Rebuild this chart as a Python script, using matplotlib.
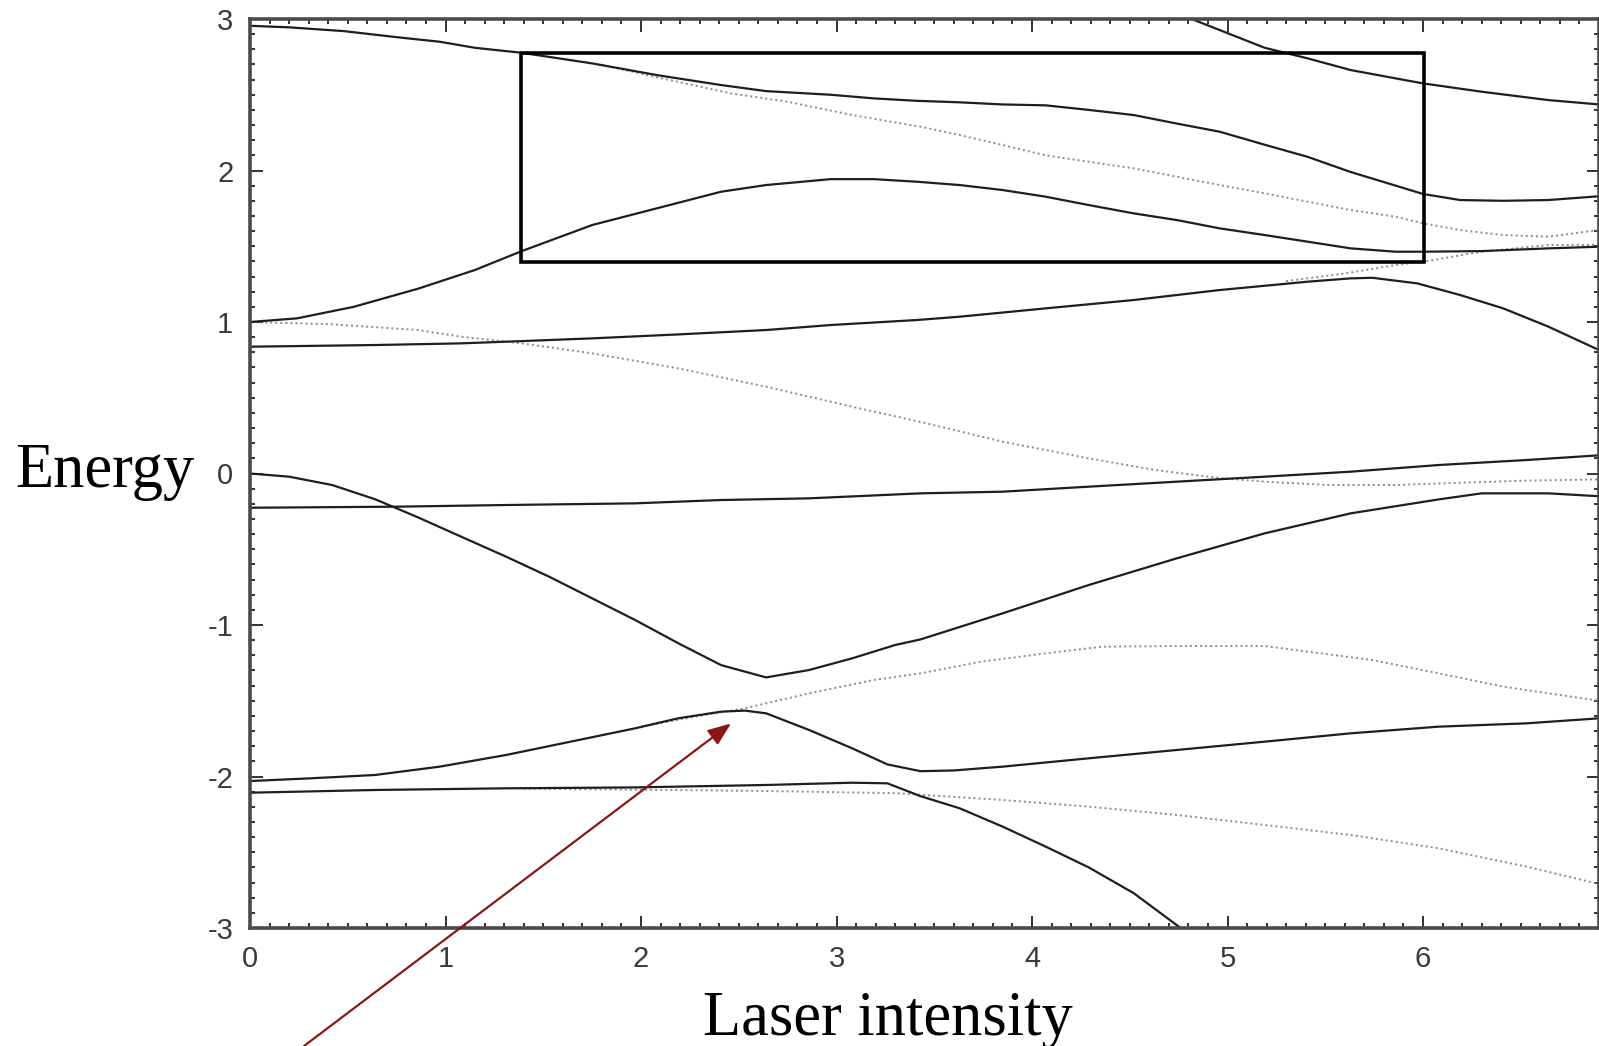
import matplotlib
matplotlib.use("Agg")
import matplotlib.pyplot as plt
from matplotlib.patches import Rectangle
from matplotlib.ticker import MultipleLocator

plt.rcParams['axes.unicode_minus'] = False

# solid (adiabatic) levels
s1_x = [0, 0.2, 0.48, 0.75, 0.97, 1.15, 1.39, 1.75, 2.08, 2.41, 2.64, 2.97, 3.19, 3.41, 3.63, 3.85,
        4.07, 4.29, 4.52, 4.74, 4.96, 5.19, 5.41, 5.63, 5.86, 6.0, 6.19, 6.41, 6.64, 6.9]
s1_y = [2.955, 2.945, 2.92, 2.88, 2.85, 2.81, 2.777, 2.707, 2.63, 2.564, 2.524, 2.50, 2.476, 2.46, 2.45, 2.436,
        2.43, 2.40, 2.366, 2.31, 2.256, 2.17, 2.09, 1.99, 1.90, 1.845, 1.805, 1.80, 1.805, 1.83]

s2_x = [0, 0.24, 0.53, 0.86, 1.15, 1.39, 1.75, 2.08, 2.41, 2.64, 2.97, 3.19, 3.41, 3.63, 3.85, 4.07,
        4.29, 4.52, 4.74, 4.96, 5.19, 5.41, 5.63, 5.86, 6.0, 6.3, 6.64, 6.9]
s2_y = [1.0, 1.024, 1.10, 1.22, 1.343, 1.468, 1.64, 1.75, 1.86, 1.904, 1.943, 1.943, 1.926, 1.904, 1.871, 1.827,
        1.772, 1.717, 1.673, 1.618, 1.574, 1.53, 1.486, 1.464, 1.464, 1.468, 1.486, 1.497]

s3_x = [0, 0.64, 1.08, 1.39, 1.75, 2.19, 2.64, 2.97, 3.41, 3.63, 4.07, 4.52, 4.96, 5.41, 5.63, 5.74,
        5.97, 6.19, 6.41, 6.64, 6.9]
s3_y = [0.837, 0.848, 0.859, 0.874, 0.892, 0.918, 0.947, 0.98, 1.013, 1.035, 1.09, 1.145, 1.211, 1.266, 1.288, 1.292,
        1.255, 1.178, 1.09, 0.97, 0.815]

s4_x = [0, 0.75, 1.31, 1.97, 2.41, 2.86, 3.43, 3.85, 4.29, 4.74, 5.19, 5.63, 6.08, 6.53, 6.9]
s4_y = [-0.226, -0.219, -0.208, -0.197, -0.175, -0.164, -0.131, -0.12, -0.087, -0.054, -0.021, 0.012, 0.056, 0.089, 0.12]

s5_x = [0, 0.2, 0.42, 0.64, 0.86, 1.08, 1.31, 1.53, 1.75, 1.97, 2.19, 2.41, 2.64, 2.86, 3.08, 3.30,
        3.43, 3.85, 4.29, 4.74, 5.19, 5.63, 6.08, 6.30, 6.64, 6.9]
s5_y = [0.0, -0.021, -0.076, -0.17, -0.29, -0.417, -0.549, -0.681, -0.824, -0.967, -1.12, -1.265, -1.346, -1.297,
        -1.22, -1.132, -1.095, -0.923, -0.736, -0.56, -0.395, -0.263, -0.171, -0.131, -0.131, -0.15]

s6_x = [0, 0.31, 0.64, 0.97, 1.31, 1.64, 1.97, 2.19, 2.41, 2.53, 2.64, 2.86, 3.08, 3.26, 3.43, 3.6,
        3.85, 4.29, 4.74, 5.19, 5.63, 6.08, 6.53, 6.9]
s6_y = [-2.03, -2.012, -1.99, -1.935, -1.858, -1.77, -1.682, -1.616, -1.572, -1.565, -1.583, -1.693, -1.814, -1.92,
        -1.965, -1.96, -1.935, -1.88, -1.825, -1.77, -1.715, -1.671, -1.649, -1.616]

s7_x = [0, 0.64, 1.31, 1.97, 2.64, 3.08, 3.26, 3.43, 3.63, 3.85, 4.07, 4.29, 4.52, 4.76]
s7_y = [-2.107, -2.089, -2.078, -2.072, -2.056, -2.041, -2.045, -2.13, -2.21, -2.331, -2.463, -2.6, -2.77, -3.0]

s8_x = [4.70, 4.83, 4.96, 5.19, 5.41, 5.63, 5.86, 6.0, 6.30, 6.64, 6.9]
s8_y = [3.06, 2.993, 2.927, 2.81, 2.74, 2.663, 2.608, 2.575, 2.52, 2.465, 2.436]

# dotted (diabatic) levels
d1_x = [1.8, 2.1, 2.46, 2.75, 3.08, 3.43, 3.63, 3.85, 4.07, 4.29, 4.52, 4.74, 4.96, 5.19, 5.41, 5.63,
        5.86, 6.0, 6.19, 6.41, 6.64, 6.9]
d1_y = [2.697, 2.61, 2.509, 2.454, 2.366, 2.289, 2.234, 2.168, 2.10, 2.058, 2.014, 1.959, 1.904, 1.849, 1.794, 1.739,
        1.695, 1.651, 1.607, 1.574, 1.563, 1.607]

d2_x = [0, 0.42, 0.86, 1.08, 1.39, 1.75, 2.19, 2.64, 3.08, 3.43, 3.85, 4.29, 4.63, 4.96, 5.19, 5.52,
        5.86, 6.19, 6.53, 6.9]
d2_y = [1.0, 0.985, 0.947, 0.903, 0.859, 0.793, 0.694, 0.573, 0.441, 0.34, 0.21, 0.10, 0.023, -0.03, -0.054, -0.076,
        -0.076, -0.061, -0.047, -0.039]

d3_x = [2.0, 2.3, 2.53, 2.86, 3.19, 3.43, 3.74, 4.07, 4.36, 4.74, 5.19, 5.41, 5.74, 6.08, 6.41, 6.9]
d3_y = [-1.67, -1.6, -1.55, -1.451, -1.363, -1.319, -1.242, -1.187, -1.143, -1.139, -1.139, -1.176, -1.231, -1.319,
        -1.407, -1.50]

d4_x = [1.4, 2.6, 3.3, 3.85, 4.29, 4.74, 5.19, 5.63, 6.08, 6.53, 6.9]
d4_y = [-2.08, -2.095, -2.11, -2.155, -2.199, -2.254, -2.32, -2.386, -2.474, -2.595, -2.71]

d5_x = [5.3, 5.6, 5.86, 6.0, 6.3, 6.64, 6.9]
d5_y = [1.27, 1.32, 1.376, 1.398, 1.464, 1.508, 1.51]

solid_curves = [(s1_x, s1_y), (s2_x, s2_y), (s3_x, s3_y), (s4_x, s4_y),
                (s5_x, s5_y), (s6_x, s6_y), (s7_x, s7_y), (s8_x, s8_y)]
dotted_curves = [(d1_x, d1_y), (d2_x, d2_y), (d3_x, d3_y), (d4_x, d4_y), (d5_x, d5_y)]

# zoom box and arrow tip (data units)
box_x0, box_x1 = 1.386, 6.005
box_y0, box_y1 = 1.396, 2.776
arrow_tip = (2.46, -1.65)

fig = plt.figure(figsize=(15.99, 10.46), dpi=100)
ax = fig.add_axes([250 / 1599, 1 - 928 / 1046, 1349 / 1599, 909 / 1046])

for xs, ys in dotted_curves:
    ax.plot(xs, ys, color='#8a8a8a', lw=1.4, ls=(0, (1, 1.6)))
for xs, ys in solid_curves:
    ax.plot(xs, ys, color='#1e1e1e', lw=1.6)

ax.add_patch(Rectangle((box_x0, box_y0), box_x1 - box_x0, box_y1 - box_y0,
                       fill=False, ec='black', lw=2.6, zorder=5))

ax.set_xlim(0, 6.9)
ax.set_ylim(-3, 3)
ax.xaxis.set_major_locator(MultipleLocator(1))
ax.xaxis.set_minor_locator(MultipleLocator(0.1))
ax.yaxis.set_major_locator(MultipleLocator(1))
ax.yaxis.set_minor_locator(MultipleLocator(0.1))
ax.tick_params(which='both', direction='in', top=True, right=True, color='#222222', width=1.3)
ax.tick_params(which='major', length=9, labelsize=21, labelcolor='#3a3a3a', pad=12)
ax.tick_params(which='minor', length=3.5)
for lab in ax.get_xticklabels() + ax.get_yticklabels():
    lab.set_family('Liberation Sans')
for sp in ax.spines.values():
    sp.set_color('#4a4a4a')
    sp.set_linewidth(2.6)

fig.text(15 / 1599, 1 - 487 / 1046, 'Energy', family='Liberation Serif', fontsize=45,
         ha='left', va='baseline')
fig.text(703 / 1599, 1 - 1035 / 1046, 'Laser intensity', family='Liberation Serif', fontsize=45,
         ha='left', va='baseline')

ax.annotate('', xy=arrow_tip, xycoords='data', xytext=(304 / 1599, 0), textcoords='figure fraction',
            arrowprops=dict(arrowstyle='-|>,head_length=1.4,head_width=0.55', color='#8b1616', lw=1.6,
                            shrinkA=0, shrinkB=0),
            annotation_clip=False)

fig.savefig('out.png', dpi=100)
